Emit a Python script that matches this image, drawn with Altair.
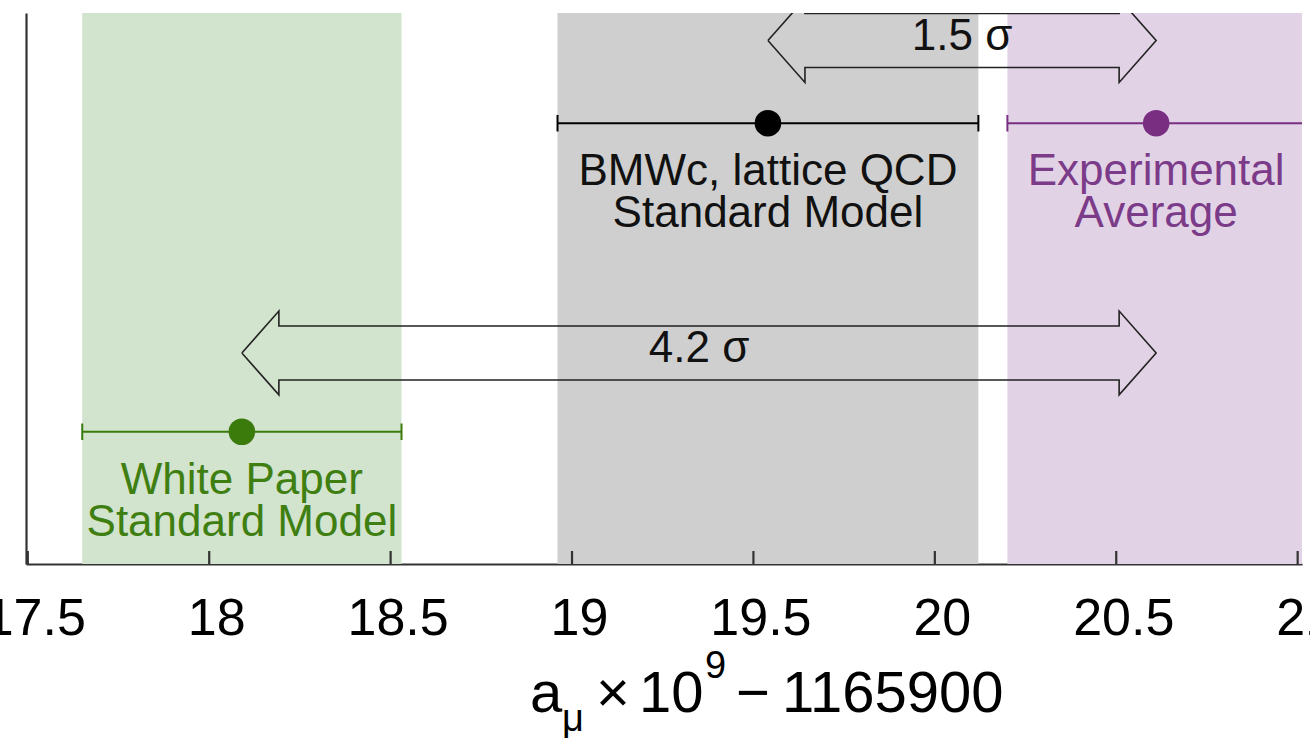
import altair as alt
import pandas as pd

# a_mu x 10^9 - 1165900 for each determination
keys = ["wp", "bmw", "exp"]
label_text = ["White Paper\nStandard Model", "BMWc, lattice QCD\nStandard Model", "Experimental\nAverage"]
centers = [18.09, 19.54, 20.61]
errors = [0.44, 0.58, 0.41]
rows = [2.4, 8.0, 8.0]
point_colors = ["#3b7b0c", "#000000", "#7a2e82"]
band_colors = ["#d2e3ce", "#cfcfcf", "#e2d2e6"]
text_colors = ["#3f7f12", "#111111", "#7b3b88"]

# tension arrows between central values
arrow_labels = ["4.2 σ", "1.5 σ"]
arrow_from = ["wp", "bmw"]
arrow_to = ["exp", "exp"]
arrow_rows = [3.83, 9.5]

x_ticks = [17.5, 18, 18.5, 19, 19.5, 20, 20.5, 21]
x_domain = [17.495, 21.012]
y_domain = [0, 10]

W, H = 1276, 551
FONT = "Liberation Sans"

# arrow outline geometry (x in data units, y in row units)
HEAD_LEN = 0.102
SHAFT_HALF = 0.49
HEAD_HALF = 0.76
CAP_HALF = 0.15

meas = pd.DataFrame({
    "key": keys, "label": label_text, "value": centers, "err": errors, "row": rows,
    "pcolor": point_colors, "bcolor": band_colors, "tcolor": text_colors,
})
meas["lo"] = meas["value"] - meas["err"]
meas["hi"] = meas["value"] + meas["err"]
meas["cap_lo"] = meas["row"] - CAP_HALF
meas["cap_hi"] = meas["row"] + CAP_HALF

caps = pd.concat([
    meas.assign(xc=meas["lo"]),
    meas.assign(xc=meas["hi"]),
], ignore_index=True)

poly_rows = []
arrow_mid = []
for lab, a, b, yc in zip(arrow_labels, arrow_from, arrow_to, arrow_rows):
    x0 = centers[keys.index(a)]
    x1 = centers[keys.index(b)]
    L, S, Hh = HEAD_LEN, SHAFT_HALF, HEAD_HALF
    pts = [(x0, yc), (x0 + L, yc + Hh), (x0 + L, yc + S), (x1 - L, yc + S),
           (x1 - L, yc + Hh), (x1, yc), (x1 - L, yc - Hh), (x1 - L, yc - S),
           (x0 + L, yc - S), (x0 + L, yc - Hh), (x0, yc)]
    for i, (px, py) in enumerate(pts):
        poly_rows.append({"arrow": lab, "i": i, "x": px, "y": py})
    arrow_mid.append({"arrow": lab, "x": (x0 + x1) / 2, "y": yc})
arrows = pd.DataFrame(poly_rows)
arrow_txt = pd.DataFrame(arrow_mid)
ticks = pd.DataFrame({"t": x_ticks})

xs = alt.Scale(domain=x_domain, nice=False, zero=False)
ys = alt.Scale(domain=y_domain, nice=False, zero=False)

x_axis = alt.Axis(values=x_ticks, labelFontSize=52, labelFont=FONT, labelColor="#000",
                  ticks=False, domainColor="#333", domainWidth=2.2, grid=False,
                  title=None, labelPadding=29, labelFlush=False, labelOverlap=False,
                  labelBound=False, labelOffset=7, format="~g")
y_axis = alt.Axis(labels=False, ticks=False, grid=False, title=None,
                  domainColor="#333", domainWidth=2.2)

base = alt.Chart(meas)

bands = base.mark_rect(clip=True).encode(
    x=alt.X("lo:Q", scale=xs, axis=x_axis), x2="hi:Q",
    y=alt.value(0), y2=alt.value(H),
    color=alt.Color("bcolor:N", scale=None),
)

bars = base.mark_rule(strokeWidth=2, clip=True).encode(
    x=alt.X("lo:Q", scale=xs), x2="hi:Q",
    y=alt.Y("row:Q", scale=ys, axis=y_axis),
    color=alt.Color("pcolor:N", scale=None),
)

cap_marks = alt.Chart(caps).mark_rule(strokeWidth=2, clip=True).encode(
    x=alt.X("xc:Q", scale=xs), y=alt.Y("cap_lo:Q", scale=ys), y2="cap_hi:Q",
    color=alt.Color("pcolor:N", scale=None),
)

dots = base.mark_circle(size=707, opacity=1).encode(
    x=alt.X("value:Q", scale=xs), y=alt.Y("row:Q", scale=ys),
    color=alt.Color("pcolor:N", scale=None),
)

labels = base.mark_text(font=FONT, fontSize=44, lineBreak="\n", lineHeight=42,
                        align="center", baseline="middle", dy=49).encode(
    x=alt.X("value:Q", scale=xs), y=alt.Y("row:Q", scale=ys),
    text="label:N", color=alt.Color("tcolor:N", scale=None),
)

arrow_lines = alt.Chart(arrows).mark_line(color="#222", strokeWidth=1.6, clip=True,
                                          strokeJoin="miter").encode(
    x=alt.X("x:Q", scale=xs), y=alt.Y("y:Q", scale=ys),
    detail="arrow:N", order="i:Q",
)

arrow_labels_m = alt.Chart(arrow_txt).mark_text(font=FONT, fontSize=44, color="#111",
                                                baseline="middle", dy=-4).encode(
    x=alt.X("x:Q", scale=xs), y=alt.Y("y:Q", scale=ys), text="arrow:N",
)

tick_marks = alt.Chart(ticks).mark_rule(color="#333", strokeWidth=2.2).encode(
    x=alt.X("t:Q", scale=xs), y=alt.value(H - 13), y2=alt.value(H),
)

# axis title assembled from pieces for the sub/superscripts
TB = 699
title_parts = []
for txt, px, dy, fs in [("a", 504, 0, 58), ("μ", 536, 19, 38), ("×", 570, 0, 58),
                        ("10", 613, 0, 58), ("9", 679, -34, 38), ("−", 710, 0, 58),
                        ("1165900", 756, 0, 58)]:
    title_parts.append(
        alt.Chart(pd.DataFrame({"s": [txt]})).mark_text(
            font=FONT, fontSize=fs, align="left", baseline="alphabetic", color="#000",
        ).encode(x=alt.value(px), y=alt.value(TB + dy), text="s:N")
    )

chart = alt.layer(bands, bars, cap_marks, dots, labels, arrow_lines, arrow_labels_m,
                  tick_marks, *title_parts).properties(
    width=W, height=H,
    autosize=alt.AutoSizeParams(type="none"),
    padding={"left": 26, "top": 13, "right": 8, "bottom": 185},
    background="white",
).configure_view(stroke=None)

chart.save("out.html", embed_options={"renderer": "svg", "actions": False})
